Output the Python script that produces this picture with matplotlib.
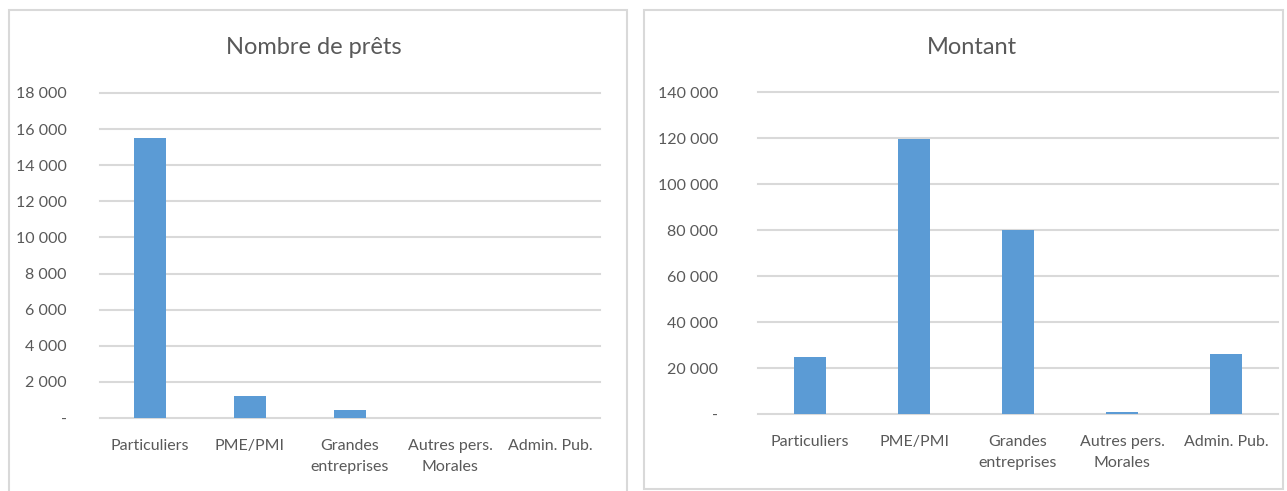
import matplotlib.pyplot as plt
from matplotlib.patches import Rectangle
from matplotlib.ticker import FuncFormatter

plt.rcParams['font.family'] = ['Lato', 'DejaVu Sans']

categories = ['Particuliers', 'PME/PMI', 'Grandes\nentreprises', 'Autres pers.\nMorales', 'Admin. Pub.']
nombre_prets = [15500, 1200, 450, 15, 5]
montant = [25000, 119700, 79800, 800, 26000]

bar_color = '#5b9bd5'
grid_color = '#d9d9d9'
text_color = '#595959'


def fmt(v, pos):
    if v == 0:
        return '-'
    return '{:,.0f}'.format(v).replace(',', ' ')


fig = plt.figure(figsize=(12.87, 4.91), dpi=100)

# panel frames
fig.patches.append(Rectangle((0.007, -0.01), 0.48, 0.99, transform=fig.transFigure,
                             fill=False, edgecolor=grid_color, linewidth=1.5))
fig.patches.append(Rectangle((0.5004, 0.004), 0.4965, 0.9756, transform=fig.transFigure,
                             fill=False, edgecolor=grid_color, linewidth=1.5))


def draw(ax, values, ymax, step, pad):
    x = range(len(categories))
    ax.bar(x, values, width=0.313, color=bar_color, zorder=3)
    ax.set_xlim(-0.5, len(categories) - 0.5)
    ax.set_ylim(0, ymax)
    ax.set_yticks(range(0, ymax + 1, step))
    ax.yaxis.set_major_formatter(FuncFormatter(fmt))
    ax.set_xticks(list(x))
    ax.set_xticklabels(categories, linespacing=1.65)
    ax.grid(axis='y', color=grid_color, linewidth=1.5, zorder=0)
    for gl in ax.get_ygridlines():
        gl.set_clip_on(False)
    for s in ax.spines.values():
        s.set_visible(False)
    ax.tick_params(axis='y', length=0, pad=pad, labelsize=11.5, labelcolor=text_color)
    ax.tick_params(axis='x', length=0, pad=15, labelsize=11.5, labelcolor=text_color)


ax1 = fig.add_axes([0.0777, 0.1487, 0.3885, 0.6619])
draw(ax1, nombre_prets, 18000, 2000, 24)
fig.text(0.244, 0.904, 'Nombre de prêts', ha='center', va='center', fontsize=17, color=text_color)

ax2 = fig.add_axes([0.589, 0.1568, 0.404, 0.6558])
draw(ax2, montant, 140000, 20000, 29)
fig.text(0.755, 0.904, 'Montant', ha='center', va='center', fontsize=17, color=text_color)

fig.savefig('out.png', dpi=100)
